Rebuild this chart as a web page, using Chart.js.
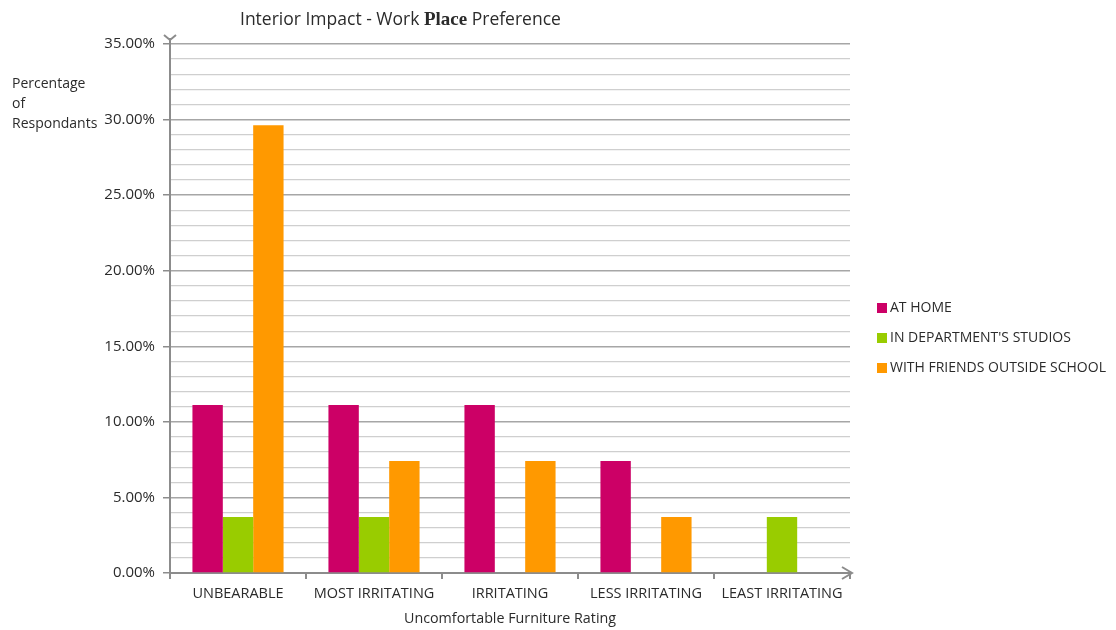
<!DOCTYPE html>
<html>
<head>
<meta charset="utf-8">
<script src="https://cdn.jsdelivr.net/npm/chart.js@4.4.1/dist/chart.umd.min.js"></script>
<style>
  html, body { margin: 0; padding: 0; background: #fff; }
  #wrap { position: relative; width: 1116px; height: 630px; }
</style>
</head>
<body>
<div id="wrap"><canvas id="workChart" width="1116" height="630"></canvas></div>
<script>
const categories = ["UNBEARABLE", "MOST IRRITATING", "IRRITATING", "LESS IRRITATING", "LEAST IRRITATING"];
const atHome = [11.11, 11.11, 11.11, 7.41, 0];
const inStudios = [3.70, 3.70, 0, 0, 3.70];
const withFriends = [29.63, 7.41, 7.41, 3.70, 0];
const seriesNames = ["AT HOME", "IN DEPARTMENT'S STUDIOS", "WITH FRIENDS OUTSIDE SCHOOL"];
const seriesColors = ["#CC0066", "#99CC00", "#FF9900"];
const yMax = 35;
const yMajorStep = 5;

const FONT = "'Open Sans', 'Liberation Sans', sans-serif";
const TEXT = "#2b2b2b";

// title, axis titles, legend and the two arrow heads
const extras = {
    id: "extras",
    afterDraw(chart) {
        const ctx = chart.ctx;
        const area = chart.chartArea;
        ctx.save();

        // title with the odd serif "Place"
        let x = 240;
        const parts = [
            ["Interior Impact - Work ", "17.5px " + FONT],
            ["Place", "bold 19px 'Liberation Serif', serif"],
            [" Preference", "17.5px " + FONT]
        ];
        ctx.fillStyle = TEXT;
        ctx.textBaseline = "alphabetic";
        ctx.textAlign = "left";
        parts.forEach(([txt, f]) => {
            ctx.font = f;
            ctx.fillText(txt, x, 25);
            x += ctx.measureText(txt).width;
        });

        // y axis title
        ctx.font = "14px " + FONT;
        ctx.textBaseline = "middle";
        ["Percentage", "of", "Respondants"].forEach((t, i) => ctx.fillText(t, 12, 84 + i * 20));

        // x axis title
        ctx.textAlign = "center";
        ctx.font = "14.3px " + FONT;
        ctx.fillText("Uncomfortable Furniture Rating", 510, 619);

        // legend
        ctx.textAlign = "left";
        ctx.font = "14px " + FONT;
        seriesNames.forEach((name, i) => {
            const y = 308 + i * 30;
            ctx.fillStyle = seriesColors[i];
            ctx.fillRect(877, y - 5, 10, 10);
            ctx.fillStyle = TEXT;
            ctx.fillText(name, 890, y);
        });

        // arrows
        ctx.strokeStyle = "#8c8c8c";
        ctx.lineWidth = 2;
        ctx.beginPath();
        ctx.moveTo(area.left, area.top);
        ctx.lineTo(area.left, area.top - 6);
        ctx.moveTo(area.left - 6, area.top - 9);
        ctx.lineTo(area.left, area.top - 4);
        ctx.lineTo(area.left + 6, area.top - 9);
        ctx.moveTo(area.right, area.bottom);
        ctx.lineTo(area.right + 2, area.bottom);
        ctx.moveTo(area.right - 8, area.bottom - 6);
        ctx.lineTo(area.right + 2, area.bottom);
        ctx.lineTo(area.right - 8, area.bottom + 6);
        ctx.stroke();
        ctx.restore();
    }
};

new Chart(document.getElementById("workChart"), {
    type: "bar",
    data: {
        labels: categories,
        datasets: [atHome, inStudios, withFriends].map((d, i) => ({
            label: seriesNames[i],
            data: d,
            backgroundColor: seriesColors[i],
            borderWidth: 0,
            categoryPercentage: 0.67,
            barPercentage: 1.0
        }))
    },
    options: {
        responsive: false,
        animation: false,
        layout: { padding: { top: 44, right: 266, left: 0, bottom: 0 } },
        plugins: {
            legend: { display: false },
            tooltip: { enabled: false }
        },
        scales: {
            x: {
                afterFit: (s) => { s.height = 57; },
                border: { color: "#8c8c8c", width: 2 },
                grid: {
                    offset: true,
                    drawOnChartArea: false,
                    tickLength: 6,
                    color: "#8c8c8c",
                    lineWidth: 2
                },
                ticks: {
                    color: TEXT,
                    padding: 6,
                    font: { family: FONT, size: 14.5 }
                }
            },
            y: {
                min: 0,
                max: yMax,
                afterFit: (s) => { s.width = 170; },
                border: { color: "#8c8c8c", width: 2 },
                grid: {
                    tickLength: 7,
                    color: (c) => c.tick.value % yMajorStep === 0 ? "#a6a6a6" : "#cfcfcf",
                    tickColor: (c) => c.tick.value % yMajorStep === 0 ? "#8c8c8c" : "rgba(0,0,0,0)",
                    lineWidth: (c) => c.tick.value % yMajorStep === 0 ? 1.5 : 1.3
                },
                ticks: {
                    stepSize: 1,
                    autoSkip: false,
                    color: TEXT,
                    padding: 8,
                    font: { family: FONT, size: 15 },
                    callback: (v) => v % yMajorStep === 0 ? v.toFixed(2) + "%" : ""
                }
            }
        }
    },
    plugins: [extras]
});
</script>
</body>
</html>
